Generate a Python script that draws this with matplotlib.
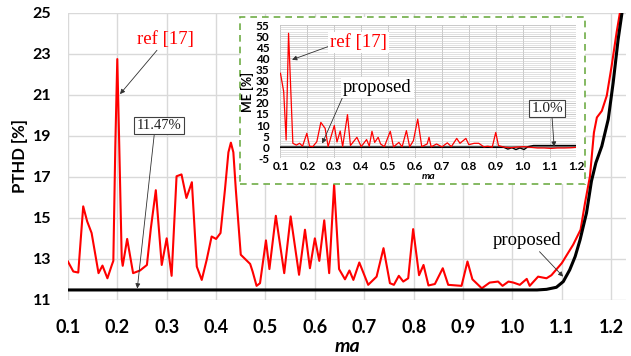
import matplotlib
matplotlib.use('Agg')
import matplotlib.pyplot as plt
from matplotlib.patches import Rectangle

# ---- main chart data (PTHD vs ma) ----
ref_x = [0.100, 0.111, 0.121, 0.131, 0.139, 0.148, 0.162, 0.170, 0.180, 0.189,
         0.192, 0.196, 0.200, 0.204, 0.209, 0.211, 0.220, 0.232, 0.246, 0.260,
         0.268, 0.278, 0.290, 0.300, 0.310, 0.320, 0.330, 0.340, 0.351, 0.361,
         0.371, 0.381, 0.391, 0.400, 0.409, 0.418, 0.425, 0.430, 0.435, 0.440,
         0.450, 0.469, 0.474, 0.482, 0.489, 0.501, 0.508, 0.521, 0.538, 0.551,
         0.568, 0.580, 0.590, 0.600, 0.609, 0.619, 0.629, 0.639, 0.649, 0.661,
         0.670, 0.678, 0.690, 0.708, 0.725, 0.739, 0.752, 0.760, 0.770, 0.779,
         0.789, 0.799, 0.811, 0.820, 0.830, 0.843, 0.859, 0.870, 0.897, 0.909,
         0.919, 0.938, 0.954, 0.971, 0.980, 0.992, 1.002, 1.015, 1.029, 1.035,
         1.052, 1.069, 1.079, 1.100, 1.123, 1.138, 1.147, 1.157, 1.165, 1.171,
         1.181, 1.191, 1.201, 1.211, 1.219]
ref_y = [12.87, 12.38, 12.33, 15.56, 14.83, 14.26, 12.30, 12.67, 12.05, 12.70,
         12.90, 18.50, 22.75, 18.50, 13.00, 12.66, 13.97, 12.30, 12.43, 12.70,
         14.50, 16.35, 12.70, 14.00, 12.17, 17.03, 17.12, 15.97, 16.74, 12.62,
         11.97, 12.95, 14.09, 13.97, 14.26, 16.38, 18.20, 18.67, 18.20, 16.38,
         13.20, 12.75, 12.38, 11.68, 11.81, 13.90, 12.50, 15.10, 12.30, 15.07,
         12.22, 14.42, 12.54, 14.00, 12.90, 14.88, 12.30, 16.63, 12.50, 12.00,
         12.43, 11.97, 12.82, 11.73, 12.13, 13.52, 11.81, 11.73, 12.17, 11.89,
         12.05, 14.45, 12.20, 12.70, 11.70, 11.77, 12.54, 11.73, 11.68, 12.87,
         12.00, 11.56, 11.84, 11.89, 11.68, 11.89, 11.84, 11.73, 12.02, 11.68,
         12.13, 12.05, 12.20, 12.79, 13.69, 14.42, 15.73, 17.03, 19.16, 19.90,
         20.22, 20.96, 22.43, 24.06, 25.20]

prop_x = [0.100, 1.050, 1.069, 1.089, 1.103, 1.116, 1.127, 1.137, 1.150, 1.160,
          1.169, 1.181, 1.194, 1.204, 1.214, 1.223]
prop_y = [11.48, 11.48, 11.51, 11.61, 11.89, 12.46, 13.11, 13.93, 15.24, 16.79,
          17.69, 18.50, 19.81, 21.60, 23.70, 25.20]

# ---- inset data (ME vs ma) ----
me_ref_x = [0.100, 0.112, 0.121, 0.130, 0.146, 0.159, 0.171, 0.182, 0.198, 0.208,
            0.220, 0.235, 0.250, 0.266, 0.277, 0.300, 0.310, 0.322, 0.331, 0.349,
            0.360, 0.384, 0.400, 0.420, 0.430, 0.440, 0.450, 0.463, 0.472, 0.486,
            0.508, 0.520, 0.540, 0.552, 0.568, 0.580, 0.594, 0.610, 0.625, 0.645,
            0.652, 0.660, 0.680, 0.700, 0.720, 0.735, 0.755, 0.767, 0.789, 0.800,
            0.820, 0.837, 0.856, 0.870, 0.887, 0.900, 0.910, 0.930, 0.955, 0.980,
            1.005, 1.030, 1.055, 1.080, 1.105, 1.130, 1.155, 1.180, 1.200]
me_ref_y = [33.3, 25.0, 3.3, 51.3, 1.8, 1.0, 1.8, 0.5, 6.3, 0.5,
            0.3, 2.5, 11.2, 8.5, 0.3, 9.8, 2.4, 7.3, 0.3, 14.7,
            0.8, 4.5, 0.3, 3.5, 0.5, 7.2, 2.2, 4.5, 1.5, 0.3,
            7.2, 0.2, 2.2, 0.2, 7.5, 0.2, 3.0, 12.7, 0.3, 1.5,
            4.5, 0.2, 1.5, 0.2, 2.0, 0.3, 4.0, 1.8, 4.0, 1.2,
            1.8, 1.8, 0.2, 0.5, 0.1, 6.7, 0.8, 0.1, -0.2, 0.1,
            0.3, 0.0, -0.3, -0.3, -0.5, -0.3, -0.3, -0.2, 0.0]

me_prop_x = [0.100, 0.930, 0.945, 0.960, 0.975, 0.990, 1.005, 1.020, 1.040, 1.200]
me_prop_y = [0.0, 0.0, -0.8, -0.2, -1.0, -0.3, -1.0, 0.3, 0.8, 0.8]

main_xticks = [0.1, 0.2, 0.3, 0.4, 0.5, 0.6, 0.7, 0.8, 0.9, 1.0, 1.1, 1.2]
main_yticks = [11, 13, 15, 17, 19, 21, 23, 25]
inset_yticks = [-5, 0, 5, 10, 15, 20, 25, 30, 35, 40, 45, 50, 55]

sans = 'Lato'
serif = 'Liberation Serif'
arrow = dict(arrowstyle='-|>', color='#303030', lw=0.6, mutation_scale=7, shrinkA=0, shrinkB=0)
box = dict(boxstyle='square,pad=0.15', fc='white', ec='#404040', lw=0.8)

fig = plt.figure(figsize=(6.31, 3.56), dpi=100)
ax = fig.add_axes([0.1076, 0.1579, 0.8845, 0.8056])
ax.plot(ref_x, ref_y, color='#ff0000', lw=1.5, zorder=2)
ax.plot(prop_x, prop_y, color='black', lw=2.2, zorder=2)
ax.set_xlim(0.1, 1.23)
ax.set_ylim(11, 25)
ax.set_xticks(main_xticks)
ax.set_xticklabels(['%.1f' % v for v in main_xticks], fontfamily=sans, fontweight='bold', fontsize=13)
ax.set_yticks(main_yticks)
ax.set_yticklabels([str(v) for v in main_yticks], fontfamily=sans, fontweight='bold', fontsize=11.5)
ax.tick_params(length=0)
ax.tick_params(axis='x', pad=14)
ax.tick_params(axis='y', pad=12)
ax.grid(True, color='#d9d9d9', lw=1)
ax.set_axisbelow(True)
for s in ax.spines.values():
    s.set_visible(False)
ax.set_ylabel('PTHD [%]', fontfamily=sans, fontweight='bold', fontsize=12, labelpad=3)
ax.set_xlabel('ma', fontfamily=sans, fontweight='bold', fontstyle='italic', fontsize=14, labelpad=1)

ax.annotate('ref [17]', xy=(0.2055, 21.04), xytext=(0.2966, 23.73), color='#ff0000',
            fontfamily=serif, fontsize=13.5, ha='center', va='center',
            arrowprops=dict(arrow, relpos=(0.4, 0.0)))
ax.annotate('11.47%', xy=(0.2405, 11.55), xytext=(0.2845, 19.52), color='#202020',
            fontfamily=serif, fontsize=10.5, ha='center', va='center', bbox=box,
            arrowprops=dict(arrow, relpos=(0.4, 0.0)))
ax.annotate('proposed', xy=(1.1028, 12.13), xytext=(1.0287, 13.9), color='black',
            fontfamily=serif, fontsize=13.5, ha='center', va='center',
            arrowprops=dict(arrow, relpos=(0.65, 0.0)))

# white panel with green dashed border behind the inset
ax.add_patch(Rectangle((0.3796, 0.4831), 0.5475, 0.4691, transform=fig.transFigure,
                       fc='white', ec='#70ad47', lw=1.2, ls=(0, (4, 3)), zorder=5, clip_on=False))

ins = fig.add_axes([0.4445, 0.555, 0.4691, 0.3747])
ins.set_facecolor('white')
ins.axhline(0, color='#7f7f7f', lw=1.6, zorder=1)
ins.plot(me_ref_x, me_ref_y, color='#ff0000', lw=0.9, zorder=3)
ins.plot(me_prop_x, me_prop_y, color='black', lw=1.0, zorder=2)
ins.set_xlim(0.1, 1.2)
ins.set_ylim(-5, 55)
ins.set_xticks(main_xticks)
ins.set_xticklabels(['%.1f' % v for v in main_xticks], fontfamily=sans, fontweight='bold', fontsize=8.5)
ins.set_yticks(inset_yticks)
ins.set_yticklabels([str(v) for v in inset_yticks], fontfamily=sans, fontweight='bold', fontsize=8.5)
ins.set_yticks(range(-5, 56), minor=True)
ins.tick_params(length=0, which='both')
ins.tick_params(axis='x', pad=2)
ins.tick_params(axis='y', pad=8)
ins.grid(True, which='major', color='#c0c0c0', lw=0.6)
ins.grid(True, which='minor', axis='y', color='#d4d4d4', lw=0.5)
ins.set_axisbelow(True)
for s in ins.spines.values():
    s.set_visible(False)
ins.set_ylabel('ME [%]', fontfamily=sans, fontweight='bold', fontsize=9, labelpad=1)
ins.set_xlabel('ma', fontfamily=sans, fontweight='bold', fontstyle='italic', fontsize=7.5, labelpad=0)

ins.annotate('ref [17]', xy=(0.143, 39.4), xytext=(0.389, 47.1), color='#ff0000',
             fontfamily=serif, fontsize=13.5, ha='center', va='center',
             bbox=dict(boxstyle='square,pad=0.1', fc='white', ec='none'),
             arrowprops=dict(arrow, relpos=(0.0, 0.3)))
ins.annotate('proposed', xy=(0.255, 1.7), xytext=(0.46, 26.8), color='black',
             fontfamily=serif, fontsize=13.5, ha='center', va='center',
             bbox=dict(boxstyle='square,pad=0.1', fc='white', ec='none'),
             arrowprops=dict(arrow, relpos=(0.0, 0.0)))
ins.annotate('1.0%', xy=(1.117, 0.3), xytext=(1.091, 17.4), color='#202020',
             fontfamily=serif, fontsize=11, ha='center', va='center', bbox=box,
             arrowprops=dict(arrow, relpos=(0.65, 0.0)))

fig.savefig('out.png', dpi=100)
